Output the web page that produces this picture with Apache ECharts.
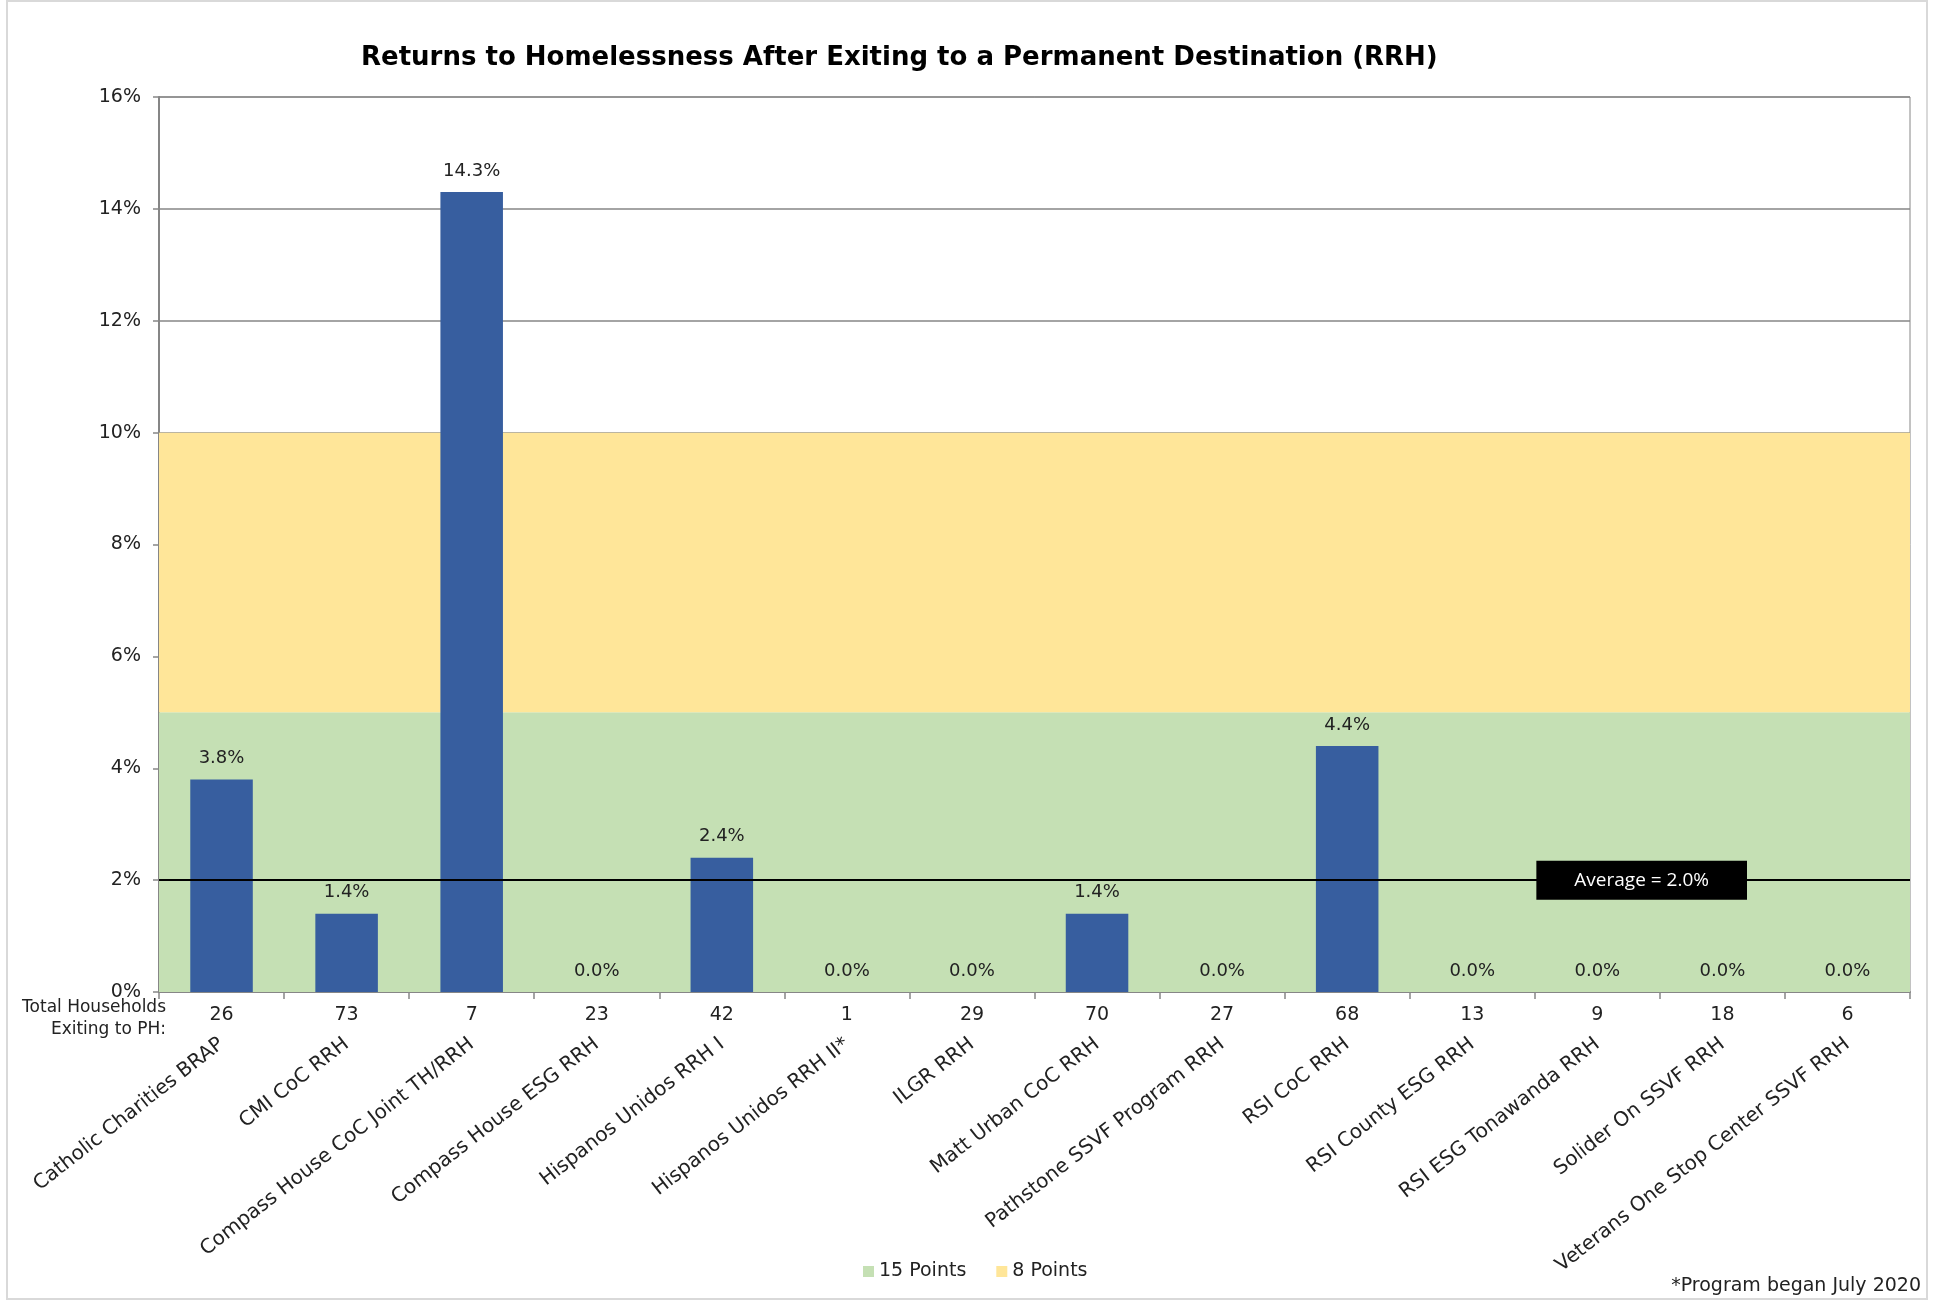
<!DOCTYPE html>
<html>
<head>
<meta charset="utf-8">
<script src="https://cdn.jsdelivr.net/npm/echarts@6/dist/echarts.min.js"></script>
<style>
  html, body { margin: 0; padding: 0; background: #fff; }
  #chart { width: 1937px; height: 1301px; }
</style>
</head>
<body>
<div id="chart"></div>
<script>
// programs along the x axis
const programs = [
    "Catholic Charities BRAP", "CMI CoC RRH", "Compass House CoC Joint TH/RRH", "Compass House ESG RRH",
    "Hispanos Unidos RRH I", "Hispanos Unidos RRH II*", "ILGR RRH", "Matt Urban CoC RRH",
    "Pathstone SSVF Program RRH", "RSI CoC RRH", "RSI County ESG RRH", "RSI ESG Tonawanda RRH",
    "Solider On SSVF RRH", "Veterans One Stop Center SSVF RRH",
];
// total households exiting to PH
const households = [26, 73, 7, 23, 42, 1, 29, 70, 27, 68, 13, 9, 18, 6];
// return rate in percent
const returnRate = [3.8, 1.4, 14.3, 0.0, 2.4, 0.0, 0.0, 1.4, 0.0, 4.4, 0.0, 0.0, 0.0, 0.0];
const averageRate = 2.0;
// scoring bands (percent)
const band15 = [0, 5];
const band8 = [5, 10];

const axisFont = "DejaVu Sans";
const gray = "#868686";

const chart = echarts.init(document.getElementById("chart"));
chart.setOption({
    backgroundColor: "#fff",
    animation: false,
    title: {
        text: "Returns to Homelessness After Exiting to a Permanent Destination (RRH)",
        left: 356,
        top: 40,
        textStyle: { fontFamily: "DejaVu Sans", fontWeight: "bold", fontSize: 26, color: "#000" },
    },
    legend: {
        data: ["15 Points", "8 Points"],
        left: 858,
        top: 1257,
        icon: "rect",
        itemWidth: 11,
        itemHeight: 11,
        itemGap: 30,
        textStyle: { fontFamily: axisFont, fontSize: 19, color: "#222" },
    },
    grid: {
        left: 159,
        right: 27,
        top: 97,
        bottom: 309,
        show: true,
        borderColor: gray,
        borderWidth: 1,
    },
    xAxis: [
        {
            type: "category",
            data: programs,
            axisLine: { lineStyle: { color: gray, width: 2 } },
            axisTick: { show: true, length: 7, lineStyle: { color: gray, width: 1.5 } },
            axisLabel: {
                formatter: (value, index) => String(households[index]),
                fontFamily: axisFont,
                fontSize: 19,
                color: "#222",
                margin: 14,
                interval: 0,
            },
        },
        {
            type: "category",
            data: programs,
            position: "bottom",
            axisLine: { show: false },
            axisTick: { show: false },
            axisLabel: {
                rotate: 38,
                interval: 0,
                fontFamily: axisFont,
                fontSize: 20,
                color: "#222",
                margin: 50,
            },
        },
    ],
    yAxis: {
        type: "value",
        min: 0,
        max: 16,
        interval: 2,
        axisLine: { show: true, lineStyle: { color: gray, width: 2 } },
        axisTick: { show: true, length: 6, lineStyle: { color: gray, width: 1.5 } },
        splitLine: { lineStyle: { color: gray, width: 1.5 } },
        axisLabel: {
            formatter: "{value}%",
            fontFamily: axisFont,
            fontSize: 19,
            color: "#222",
            margin: 18,
        },
    },
    series: [
        {
            name: "15 Points",
            type: "line",
            data: [],
            color: "#C5E0B4",
            z: 1,
            markArea: {
                silent: true,
                itemStyle: { color: "#C5E0B4", opacity: 1 },
                data: [[{ yAxis: band15[0] }, { yAxis: band15[1] }]],
            },
        },
        {
            name: "8 Points",
            type: "line",
            data: [],
            color: "#FFE699",
            z: 1,
            markArea: {
                silent: true,
                itemStyle: { color: "#FFE699", opacity: 1 },
                data: [[{ yAxis: band8[0] }, { yAxis: band8[1] }]],
            },
        },
        {
            name: "Return rate",
            type: "bar",
            data: returnRate,
            barWidth: "50%",
            z: 3,
            itemStyle: { color: "#375E9F" },
            label: {
                show: true,
                position: "top",
                distance: 12,
                formatter: (p) => p.value.toFixed(1) + "%",
                fontFamily: axisFont,
                fontSize: 18,
                color: "#222",
            },
            markLine: {
                silent: true,
                symbol: "none",
                z: 5,
                lineStyle: { color: "#000", width: 2, type: "solid" },
                label: {
                    position: "insideEnd",
                    distance: 163,
                    formatter: "Average = " + averageRate.toFixed(1) + "%",
                    backgroundColor: "#000",
                    color: "#fff",
                    fontFamily: "Open Sans",
                    fontSize: 19,
                    padding: [10, 38],
                },
                data: [{ yAxis: averageRate }],
            },
        },
    ],
    graphic: [
        {
            type: "rect",
            shape: { x: 7, y: 1, width: 1920, height: 1298 },
            style: { fill: "none", stroke: "#d9d9d9", lineWidth: 2 },
            silent: true,
        },
        {
            type: "text",
            x: 166,
            y: 997,
            style: {
                text: "Total Households\nExiting to PH:",
                align: "right",
                textAlign: "right",
                font: "17px 'DejaVu Sans'",
                fill: "#222",
                lineHeight: 22,
            },
        },
        {
            type: "text",
            x: 1921,
            y: 1277,
            style: {
                text: "*Program began July 2020",
                align: "right",
                textAlign: "right",
                font: "19px 'DejaVu Sans'",
                fill: "#222",
            },
        },
    ],
});
</script>
</body>
</html>
